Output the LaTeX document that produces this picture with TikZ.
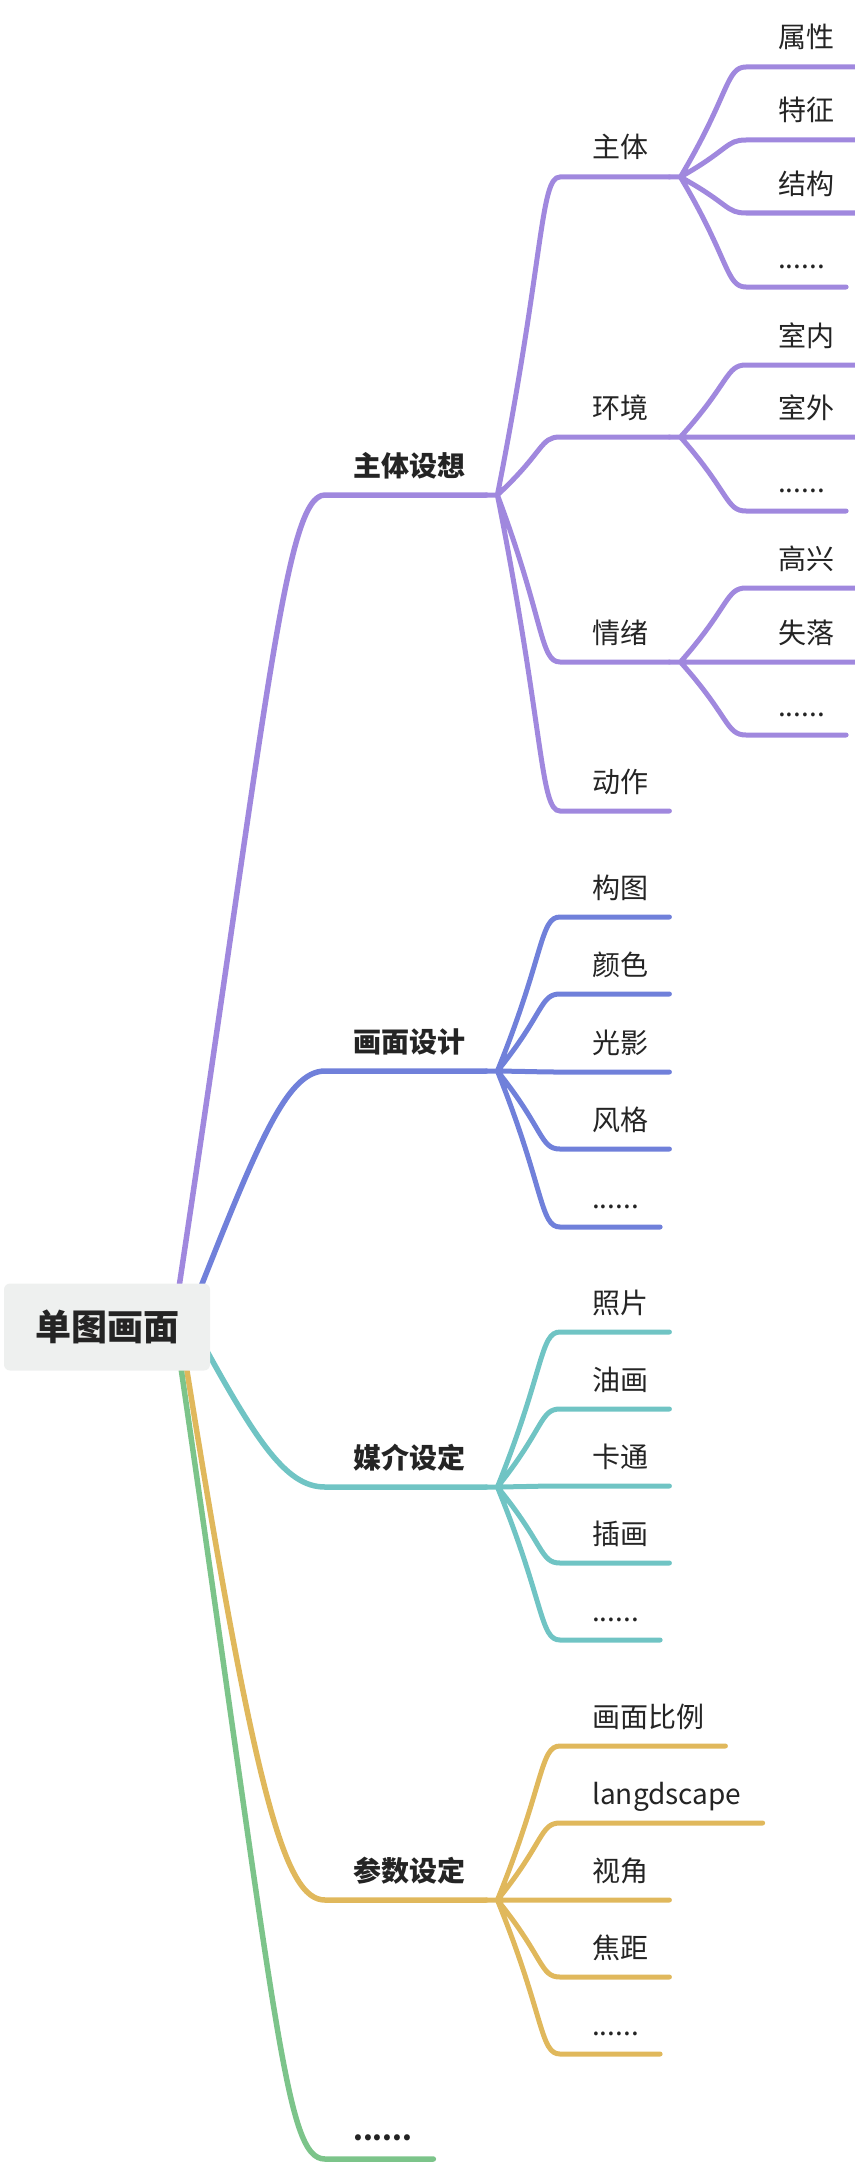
\documentclass[tikz,border=0pt]{standalone}
\usepackage{fontspec}
\setmainfont{Noto Sans CJK SC}
\usepackage{tikz}
\usetikzlibrary{calc, backgrounds}
\definecolor{purpleMap}{RGB}{160,136,222}
\definecolor{blueMap}{RGB}{112,128,218}
\definecolor{tealMap}{RGB}{112,196,196}
\definecolor{goldMap}{RGB}{224,184,92}
\definecolor{greenMap}{RGB}{124,196,138}
\definecolor{greyRoot}{RGB}{238,240,239}
\definecolor{inkText}{RGB}{36,36,36}

\begin{document}
\begin{tikzpicture}[
  x=1pt, y=-1pt,
  root/.style={rectangle, rounded corners=6pt, fill=greyRoot,
               minimum width=206pt, minimum height=87pt, text=inkText,
               font=\fontsize{36}{36}\selectfont\bfseries},
  topic/.style={anchor=base west, inner sep=0pt, text=inkText,
                font=\fontsize{28}{28}\selectfont},
  maintopic/.style={topic, font=\fontsize{28}{28}\selectfont\bfseries},
  trunk/.style={line width=5.5pt, line cap=round},
  link/.style={line width=5pt, line cap=round,
    to path={($(\tikztostart.base east)+(21,19)$) -- ++(11,0)
      .. controls ($(\tikztostart.base east)!0.75!(\tikztotarget.base west)+(-16,19)$)
      and ($(\tikztotarget.base west)+(-52,19)$)
      .. ($(\tikztotarget.base west)+(-32,19)$)
      -- ($(\tikztotarget.base east)+(21,19)$)}}
]
\useasboundingbox (0,0) rectangle (854,2170);

% Centro
\node[root] (root) at (107,1327) {单图画面};

% Ramas principales
\node[maintopic] (sx) at (353,476)  {主体设想};
\node[maintopic] (hm) at (353,1052) {画面设计};
\node[maintopic] (mj) at (353,1468) {媒介设定};
\node[maintopic] (cs) at (353,1881) {参数设定};
\node[maintopic] (gd) at (353,2140) {......};

% 主体设想
\node[topic] (zt) at (592,158) {主体};
\node[topic] (hj) at (592,418) {环境};
\node[topic] (qx) at (592,643) {情绪};
\node[topic] (dz) at (592,792) {动作};

\node[topic] (zt1) at (778,48)  {属性};
\node[topic] (zt2) at (778,121) {特征};
\node[topic] (zt3) at (778,194) {结构};
\node[topic] (zt4) at (778,268) {......};

\node[topic] (hj1) at (778,346) {室内};
\node[topic] (hj2) at (778,418) {室外};
\node[topic] (hj3) at (778,492) {......};

\node[topic] (qx1) at (778,569) {高兴};
\node[topic] (qx2) at (778,643) {失落};
\node[topic] (qx3) at (778,716) {......};

% 画面设计
\node[topic] (hm1) at (592,898)  {构图};
\node[topic] (hm2) at (592,975)  {颜色};
\node[topic] (hm3) at (592,1053) {光影};
\node[topic] (hm4) at (592,1130) {风格};
\node[topic] (hm5) at (592,1208) {......};

% 媒介设定
\node[topic] (mj1) at (592,1313) {照片};
\node[topic] (mj2) at (592,1390) {油画};
\node[topic] (mj3) at (592,1467) {卡通};
\node[topic] (mj4) at (592,1544) {插画};
\node[topic] (mj5) at (592,1621) {......};

% 参数设定
\node[topic] (cs1) at (592,1727) {画面比例};
\node[topic] (cs2) at (592,1804) {langdscape};
\node[topic] (cs3) at (592,1881) {视角};
\node[topic] (cs4) at (592,1958) {焦距};
\node[topic] (cs5) at (592,2035) {......};

% Troncos desde el centro
\begin{scope}[on background layer]
\draw[trunk, purpleMap] (root.center) ++(66,0) .. controls +(95,-627) and +(-40,0)
  .. ($(sx.base west)+(-28,19)$) -- ($(sx.base east)+(21,19)$);
\draw[trunk, blueMap] (root.center) ++(78,0) .. controls +(70,-177) and +(-40,0)
  .. ($(hm.base west)+(-28,19)$) -- ($(hm.base east)+(21,19)$);
\draw[trunk, tealMap] (root.center) ++(83,-7) .. controls +(65,120) and +(-40,0)
  .. ($(mj.base west)+(-28,19)$) -- ($(mj.base east)+(21,19)$);
\draw[trunk, goldMap] (root.center) ++(73,0) .. controls +(75,473) and +(-40,0)
  .. ($(cs.base west)+(-28,19)$) -- ($(cs.base east)+(21,19)$);
\draw[trunk, greenMap] (root.center) ++(68,0) .. controls +(103,703) and +(-40,0)
  .. ($(gd.base west)+(-28,19)$) -- ($(gd.base east)+(21,19)$);
\end{scope}

% Ramas secundarias
\draw[link, purpleMap] (sx) to (zt) (sx) to (hj) (sx) to (qx) (sx) to (dz);
\draw[link, purpleMap] (zt) to (zt1) (zt) to (zt2) (zt) to (zt3) (zt) to (zt4);
\draw[link, purpleMap] (hj) to (hj1) (hj) to (hj2) (hj) to (hj3);
\draw[link, purpleMap] (qx) to (qx1) (qx) to (qx2) (qx) to (qx3);

\draw[link, blueMap] (hm) to (hm1) (hm) to (hm2) (hm) to (hm3) (hm) to (hm4) (hm) to (hm5);
\draw[link, tealMap] (mj) to (mj1) (mj) to (mj2) (mj) to (mj3) (mj) to (mj4) (mj) to (mj5);
\draw[link, goldMap] (cs) to (cs1) (cs) to (cs2) (cs) to (cs3) (cs) to (cs4) (cs) to (cs5);

\end{tikzpicture}
\end{document}
